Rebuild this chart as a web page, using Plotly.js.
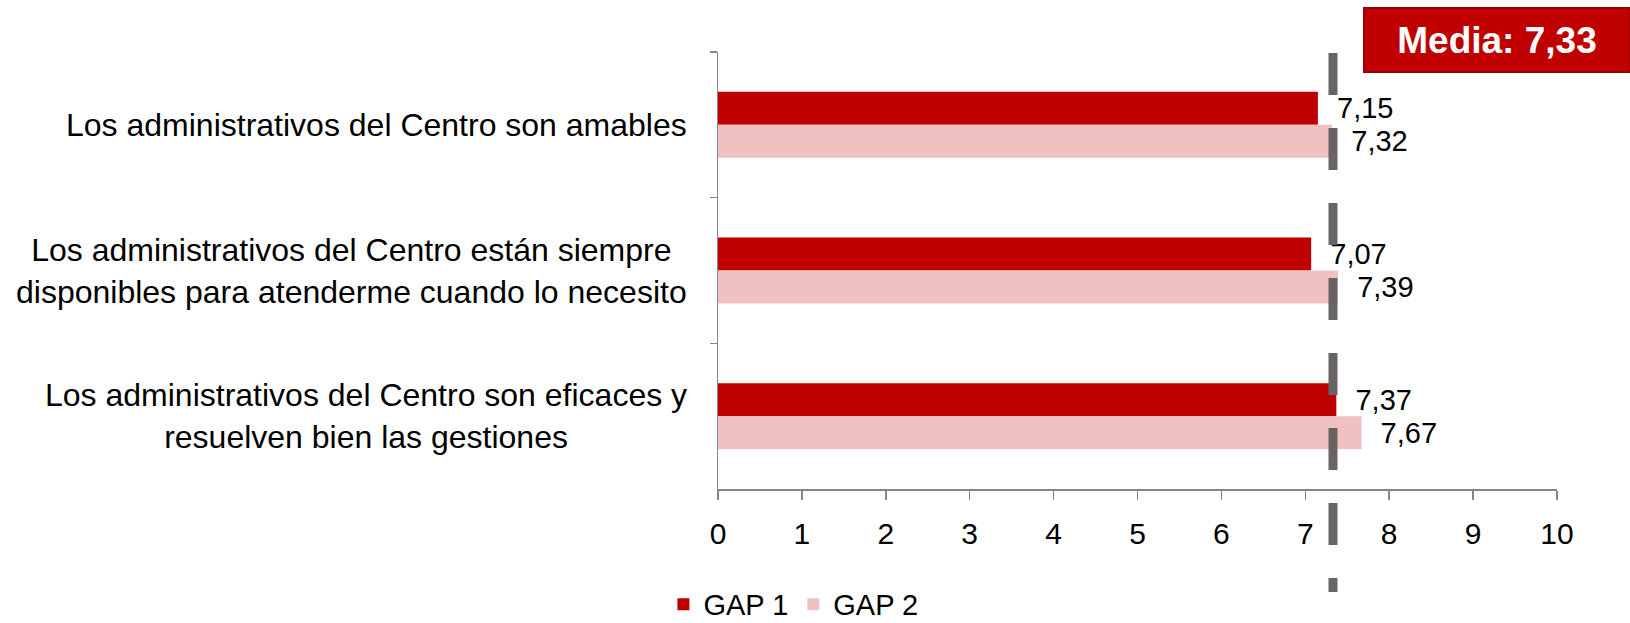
<!DOCTYPE html>
<html>
<head>
<meta charset="utf-8">
<script src="https://cdn.plot.ly/plotly-3.0.1.min.js"></script>
<style>
  html, body { margin: 0; padding: 0; background: #ffffff; }
  #chart { width: 1630px; height: 623px; }
</style>
</head>
<body>
<div id="chart"></div>
<script>
// ---- data ----
const categories = [
  "Los administrativos del Centro son amables",
  "Los administrativos del Centro están siempre<br>disponibles para atenderme cuando lo necesito",
  "Los administrativos del Centro son eficaces y<br>resuelven bien las gestiones"
];
const gap1Values = [7.15, 7.07, 7.37];
const gap2Values = [7.32, 7.39, 7.67];
const seriesNames = ["GAP 1", "GAP 2"];
const mediaValue = 7.33;
const xTickValues = [0, 1, 2, 3, 4, 5, 6, 7, 8, 9, 10];

// ---- styling ----
const FONT = "Liberation Sans, Arial, sans-serif";
const axisGrey = "#868686";
const pad = "\u00a0\u00a0";

const traces = [
  {
    type: "bar", orientation: "h", name: seriesNames[0],
    x: gap1Values, y: categories,
    marker: { color: "#C00000" },
    texttemplate: pad + "%{x:.2f}", textposition: "outside",
    constraintext: "none", cliponaxis: false,
    textfont: { family: FONT, size: 29, color: "#000000" },
    hoverinfo: "x"
  },
  {
    type: "bar", orientation: "h", name: seriesNames[1],
    x: gap2Values, y: categories,
    marker: { color: "#EFC1C1" },
    texttemplate: pad + "%{x:.2f}", textposition: "outside",
    constraintext: "none", cliponaxis: false,
    textfont: { family: FONT, size: 29, color: "#000000" },
    hoverinfo: "x"
  }
];

const annotations = categories.map(c => ({
  xref: "paper", yref: "y", x: 0, y: c,
  xanchor: "right", yanchor: "middle", xshift: -29,
  text: c, showarrow: false, align: "center",
  font: { family: FONT, size: 32, color: "#000000" }
}));

annotations.push({
  xref: "paper", yref: "paper", x: 0.9285, y: 1.0281,
  xanchor: "center", yanchor: "middle",
  text: "<b>Media: " + mediaValue.toFixed(2).replace(".", ",") + "</b>",
  showarrow: false,
  font: { family: FONT, size: 37, color: "#ffffff" },
  bgcolor: "#C00000", bordercolor: "#A00000", borderwidth: 2,
  width: 262, height: 60, borderpad: 1
});

const layout = {
  width: 1630, height: 623,
  margin: { l: 718, r: 73, t: 52, b: 134, pad: 0, autoexpand: false },
  paper_bgcolor: "#ffffff", plot_bgcolor: "#ffffff",
  separators: ",.",
  font: { family: FONT, color: "#000000" },
  barmode: "group", bargap: 0.547, bargroupgap: 0,
  showlegend: true,
  legend: {
    orientation: "h", xref: "container", yref: "container",
    x: 0.407, xanchor: "left",
    y: 0.03, yanchor: "middle",
    font: { family: FONT, size: 29, color: "#000000" },
    traceorder: "normal", itemclick: false
  },
  xaxis: {
    range: [0, 10], tickvals: xTickValues,
    showgrid: false, zeroline: false,
    showline: true, linecolor: axisGrey, linewidth: 1.5,
    ticks: "outside", ticklen: 9, tickcolor: axisGrey, tickwidth: 1.5,
    ticklabelstandoff: 8,
    tickfont: { family: FONT, size: 30, color: "#000000" }
  },
  yaxis: {
    type: "category", range: [2.5, -0.5],
    showgrid: false, zeroline: false,
    showline: true, linecolor: axisGrey, linewidth: 1.5,
    ticks: "outside", tickson: "boundaries", ticklen: 7, tickcolor: axisGrey, tickwidth: 1.5,
    showticklabels: false
  },
  shapes: [{
    type: "line", layer: "above",
    xref: "x", yref: "paper",
    x0: mediaValue, x1: mediaValue, y0: 0.9977, y1: -0.2357,
    line: { color: "#686464", width: 9, dash: "42px,33px" }
  }],
  annotations: annotations
};

Plotly.newPlot("chart", traces, layout, { displayModeBar: false, staticPlot: true });
</script>
</body>
</html>
